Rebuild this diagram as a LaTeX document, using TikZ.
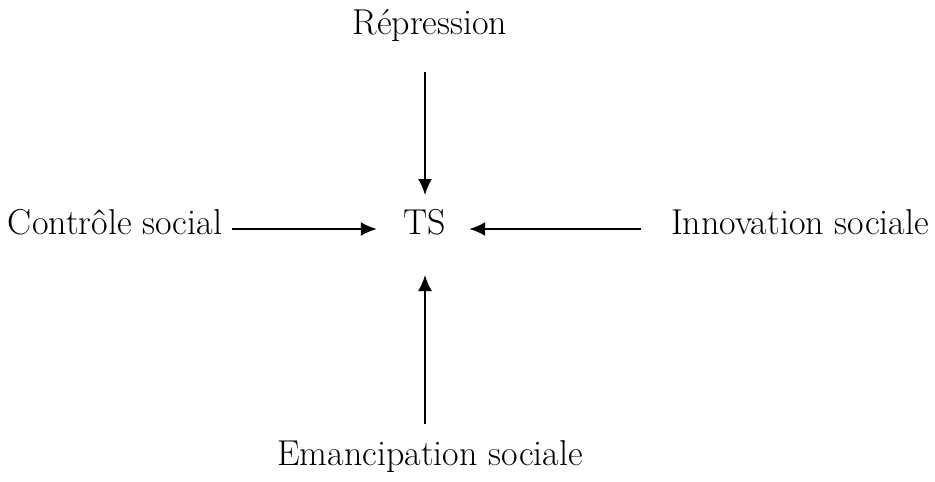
\documentclass[tikz,border=0pt]{standalone}
\usetikzlibrary{arrows.meta}
\begin{document}
\begin{tikzpicture}[
			x = 0.5pt, y = -0.5pt, % one unit per pixel
			> = {Latex[length=8pt,width=7pt]}, % arrow head style
			line width = 1pt, % line style
			font=\fontsize{18}{21}\selectfont,
			word/.style = {inner sep=0pt, text height=0.7em, text depth=0.2em}
			]
			
			\useasboundingbox (0,0) rectangle (935,481);
			
			\node[word] (ts) at (425,229) {TS};
			\node[word] (rep) at (430,30) {Répression};
			\node[word] (eman) at (430,460) {Emancipation sociale};
			\node[word] (ctrl) at (115,229) {Contrôle social};
			\node[word] (inno) at (800,229) {Innovation sociale};
			
			\path[->] 	
			(rep.south -| ts) 	edge [shorten <=16pt, shorten >=12pt] (ts)
			(eman.north -| ts) 	edge [shorten <=13pt, shorten >=18pt] (ts)
			(ctrl) 	edge [shorten <=4.5pt, shorten >=13pt] (ts)
			(inno) 	edge [shorten <=14.5pt, shorten >=11pt] (ts);
			
		\end{tikzpicture}
\end{document}
